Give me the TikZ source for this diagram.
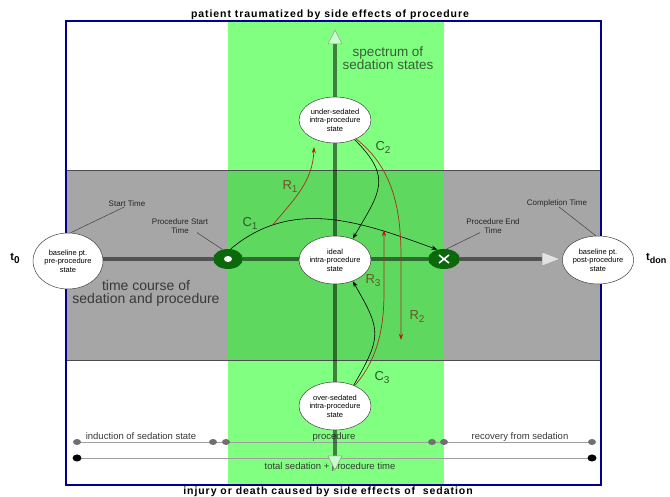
\documentclass[tikz,border=0pt]{standalone}
\usepackage{fontspec}
\setmainfont{Liberation Sans}
\newfontfamily\spacedfont[LetterSpace=9]{Liberation Sans}
\usetikzlibrary{arrows.meta,calc,shapes.geometric}
\definecolor{bandgreen}{HTML}{80FF80}
\definecolor{bandgray}{HTML}{A6A6A6}
\definecolor{overlapgreen}{HTML}{5ED85E}
\definecolor{framenavy}{HTML}{00008C}
\definecolor{markgreen}{HTML}{0B680B}
\definecolor{rline}{HTML}{A8301A}
\definecolor{rtip}{HTML}{C01010}
\definecolor{rlabel}{HTML}{6E5526}
\definecolor{clabel}{HTML}{2F5A2F}
\definecolor{spectxt}{HTML}{3A5E3A}
\definecolor{txtgray}{HTML}{383838}
\definecolor{dotgray}{HTML}{707070}
\definecolor{tipgreen}{HTML}{C8FFC8}
\definecolor{tipgray}{HTML}{E2E2E2}
\newcommand\mysub[1]{\raisebox{-3pt}{\fontsize{10}{10}\selectfont #1}}
\pgfdeclarelayer{bg}
\pgfsetlayers{bg,main}
\begin{document}
\begin{tikzpicture}[x=1pt,y=1pt,
  state/.style={ellipse, draw=black!75, fill=white, line width=0.5pt, minimum width=70pt, minimum height=48pt, inner sep=0pt, align=center, font=\fontsize{7.5}{8.5}\selectfont},
  marker/.style={ellipse, fill=markgreen, minimum width=30pt, minimum height=20pt, inner sep=0pt},
  axisline/.style={line width=3.6pt, black, opacity=0.5},
  tri/.style={draw=gray!80, line width=0.5pt},
  cline/.style={black, line width=0.6pt, -{Stealth[length=6pt,width=4pt]}},
  rl/.style={rline, line width=0.7pt, -{Stealth[length=6pt,width=4pt,color=rtip]}},
  leader/.style={black!75, line width=0.5pt},
  smalllbl/.style={font=\fontsize{8}{9}\selectfont, align=center, inner sep=1pt, text=black!85},
  clab/.style={font=\fontsize{13}{13}\selectfont, text=clabel, inner sep=0pt},
  rlab/.style={font=\fontsize{13}{13}\selectfont, text=rlabel, inner sep=0pt},
  rowtxt/.style={font=\fontsize{9.5}{10}\selectfont, text=txtgray, inner sep=0pt, anchor=base},
  title/.style={font=\spacedfont\bfseries\fontsize{10.5}{12}\selectfont, inner sep=0pt}
]
\useasboundingbox (0,0) rectangle (670,497);

% ellipses
\node[state, minimum height=56pt] (pre) at (68,236) {baseline pt.\\pre-procedure\\state};
\node[state] (post) at (598,237) {baseline pt.\\post-procedure\\state};
\node[state] (ideal) at (335,237) {ideal\\intra-procedure\\state};
\node[state, minimum height=46pt] (under) at (335,377) {under-sedated\\intra-procedure\\state};
\node[state, minimum width=72pt] (over) at (335,91) {over-sedated\\intra-procedure\\state};

% markers
\node[marker] (ps) at (228,238) {};
\node[marker, minimum width=32pt] (pe) at (444,238) {};
\fill[white] (ps.center) ellipse (4pt and 3pt);
\draw[white, line width=1.6pt] ($(pe.center)+(-5,-4)$) -- ($(pe.center)+(5,4)$)
  ($(pe.center)+(-5,4)$) -- ($(pe.center)+(5,-4)$);

% axis end coordinates
\coordinate (ttip) at (335,467); \coordinate (tbase) at (335,453);
\coordinate (btip) at (335,27);  \coordinate (bbase) at (335,41);
\coordinate (rtipc) at (560,238); \coordinate (rbase) at (542,238);

% bottom rows
\coordinate (i1) at (77,55); \coordinate (i2) at (213,55);
\coordinate (p1) at (226,55); \coordinate (p2) at (432,55);
\coordinate (q1) at (444,55); \coordinate (q2) at (592,55);
\coordinate (s1) at (77,39); \coordinate (s2) at (592,39);

\begin{pgfonlayer}{bg}
\fill[bandgreen] (228,12) rectangle (444,476);
\fill[bandgray] (66,137) rectangle (601,327);
\fill[overlapgreen] (228,137) rectangle (444,327);
\draw[gray!60!black, line width=0.4pt] (66,327) -- (601,327) (66,137) -- (601,137);
\draw[framenavy, line width=2pt] (66,12) rectangle (601,476);
% row texts under axis
\node[rowtxt] (ind) at (141,57.5) {induction of sedation state};
\node[rowtxt] (proc) at (334,57.5) {procedure};
\node[rowtxt] (rec) at (520,57.5) {recovery from sedation};
\node[rowtxt] (tot) at (330,27) {total sedation + procedure time};
\draw[gray!75, line width=0.6pt] (i1) -- (q2);
\draw[gray!75, line width=0.6pt] (s1) -- (s2);
\foreach \d in {i1,i2,p1,p2,q1,q2} \fill[dotgray] (\d) ellipse (4pt and 3pt);
\foreach \d in {s1,s2} \fill[black] (\d) ellipse (4.5pt and 3.5pt);
% axes
\draw[axisline] (tbase) -- (under.north);
\draw[axisline] (under.south) -- (ideal.north);
\draw[axisline] (ideal.south) -- (over.north);
\draw[axisline] (over.south) -- (bbase);
\draw[axisline] (pre.east |- ps.center) -- (ps.west);
\draw[axisline] (ps.east) -- (ideal.west |- ps.center);
\draw[axisline] (ideal.east |- pe.center) -- (pe.west);
\draw[axisline] (pe.east) -- (rbase);
\end{pgfonlayer}

% axis arrowheads
\draw[tri, fill=tipgreen] (ttip) -- ($(tbase)+(-7,0)$) -- ($(tbase)+(7,0)$) -- cycle;
\draw[tri, fill=tipgreen] (btip) -- ($(bbase)+(-7,0)$) -- ($(bbase)+(7,0)$) -- cycle;
\draw[tri, fill=tipgray] (rtipc) -- ($(rbase)+(0,7)$) -- ($(rbase)+(0,-7)$) -- cycle;

% curves
\coordinate (r1e) at (314,350);
\coordinate (r2e) at (401,157);
\coordinate (r3e) at (384,267);
\draw[cline] (ps.75) to[out=40,in=160] coordinate[pos=0.22] (r1s) (pe.125);
\draw[rl] (r1s) to[out=50,in=-92] (r1e);
\draw[cline] (under.-45) to[out=-45,in=60,looseness=1.4] (ideal.50);
\draw[rl] (under.-42) .. controls (392,330) and (401,290) .. (401,240) -- (r2e);
\draw[rl] (over.46) .. controls (380,140) and (384,175) .. (384,205) -- (r3e);
\draw[cline] (over.48) to[out=60,in=-60,looseness=1.4] (ideal.-50);

% curve labels
\node[clab] (c1l) at (250,274) {C\mysub{1}};
\node[rlab] (r1l) at (290,310) {R\mysub{1}};
\node[clab] (c2l) at (383,350) {C\mysub{2}};
\node[rlab] (r2l) at (417,180) {R\mysub{2}};
\node[rlab] (r3l) at (373,216) {R\mysub{3}};
\node[clab] (c3l) at (382,119) {C\mysub{3}};

% time labels with leaders
\node[smalllbl] (st) at (127,293) {Start Time};
\node[smalllbl] (pst) at (180,271) {Procedure Start\\Time};
\node[smalllbl] (pet) at (493,271) {Procedure End\\Time};
\node[smalllbl] (ct) at (557,294) {Completion Time};
\draw[leader] ($(st.south)+(-3,1)$) -- (pre.85);
\draw[leader] ($(pst.south)+(17,2)$) -- (ps.120);
\draw[leader] ($(pet.south)+(-13,2)$) -- (pe.75);
\draw[leader] ($(ct.south)+(2,1)$) -- (post.95);

% big texts
\node[font=\fontsize{13.5}{13.5}\selectfont, text=spectxt, align=center, inner sep=0pt] (spec) at (388,439) {spectrum of\\sedation states};
\node[font=\fontsize{14}{13}\selectfont, text=txtgray, align=center, inner sep=0pt] (tcourse) at (146,204) {time course of\\sedation and procedure};

% t labels
\node[font=\bfseries\fontsize{11}{11}\selectfont, inner sep=0pt] (t0l) at (15,239) {t\mysub{0}};
\node[font=\bfseries\fontsize{11}{11}\selectfont, inner sep=0pt, anchor=west] (tdl) at (646,239) {t\raisebox{-3pt}{\fontsize{9}{9}\selectfont don}};

% titles
\node[title] (ttl) at (330,482) {patient traumatized by side effects of procedure};
\node[title] (btl) at (328,5) {injury or death caused by side effects of\ \ sedation};
\end{tikzpicture}
\end{document}
